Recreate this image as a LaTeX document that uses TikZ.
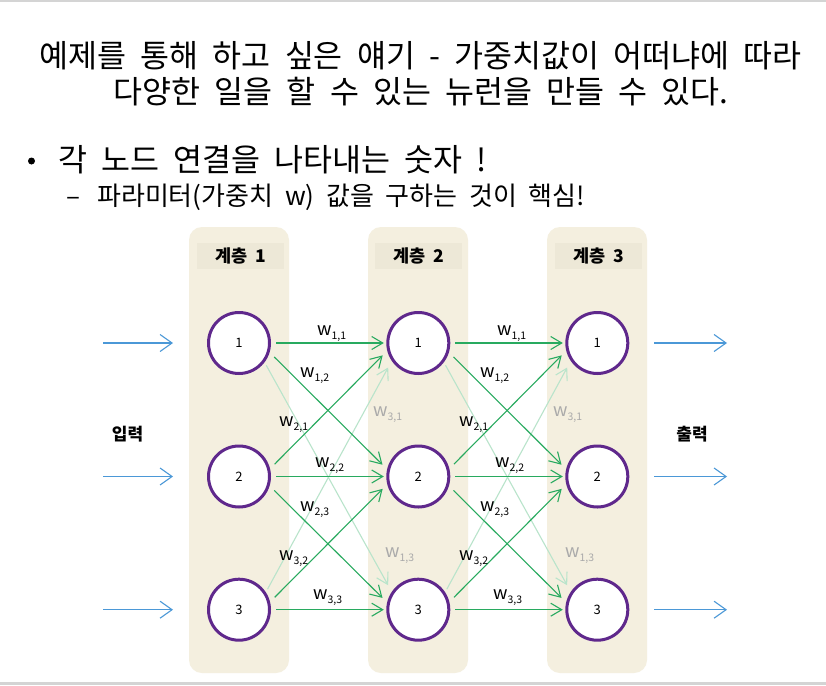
\documentclass[tikz,border=0pt]{standalone}
\usepackage{fontspec}
\setmainfont{Noto Sans CJK KR}[WordSpace=2]
\usetikzlibrary{arrows.meta,calc}
\definecolor{colbg}{RGB}{244,239,223}
\definecolor{hdbg}{RGB}{237,232,215}
\definecolor{npurple}{RGB}{95,40,140}
\definecolor{egreen}{RGB}{40,170,95}
\definecolor{efaint}{RGB}{185,228,203}
\definecolor{ablue}{RGB}{75,152,215}
\definecolor{lgray}{RGB}{170,170,170}
\definecolor{rule}{RGB}{212,212,212}
\newcommand{\wlab}[2]{w\raisebox{-4pt}{\fontsize{10.5}{10.5}\selectfont #1,#2}}
\begin{document}
\begin{tikzpicture}[x=1pt,y=-1pt,
  colbox/.style={fill=colbg, rounded corners=13pt, minimum width=100pt, minimum height=446pt, inner sep=0pt},
  hdbox/.style={fill=hdbg, minimum width=87pt, minimum height=26pt, inner sep=0pt, font=\fontsize{17.5}{20}\selectfont\bfseries},
  neuron/.style={circle, draw=npurple, line width=3pt, fill=white, minimum size=61pt, inner sep=0pt, font=\fontsize{13}{13}\selectfont},
  gedge/.style={draw=egreen, line width=1.1pt, -{Straight Barb[length=11pt,width=13pt]}},
  fedge/.style={draw=efaint, line width=1.1pt, -{Straight Barb[length=11pt,width=13pt]}},
  inarrow/.style={draw=ablue, line width=1.1pt, -{Straight Barb[length=12pt,width=17pt]}},
  wl/.style={anchor=base west, inner sep=0pt, font=\fontsize{18}{18}\selectfont},
  wlg/.style={wl, text=lgray},
  bigtxt/.style={inner sep=0pt, font=\fontsize{31.5}{36}\selectfont},
  subtxt/.style={inner sep=0pt, anchor=base west, font=\fontsize{26}{30}\selectfont},
  sidelab/.style={inner sep=0pt, font=\fontsize{17}{20}\selectfont\bfseries}
]
\useasboundingbox (0,0) rectangle (826,685);
\fill[white] (0,0) rectangle (826,685);
\fill[rule] (0,0) rectangle (826,2);
\fill[rule] (0,682) rectangle (826,685);

% title texts
\node[bigtxt, anchor=base] (t1) at (420.5,67) {예제를 통해 하고 싶은 얘기 - 가중치값이 어떠냐에 따라};
\node[bigtxt, anchor=base] (t2) at (421,103) {다양한 일을 할 수 있는 뉴런을 만들 수 있다.};
\node[circle, fill=black, inner sep=0pt, minimum size=7pt] (bul) at (31.5,161) {};
\node[bigtxt, anchor=base west] (b1) at (58,171) {각 노드 연결을 나타내는 숫자 !};
\node[subtxt] (d2) at (66,205) {–};
\node[subtxt] (b2) at (97,205) {파라미터(가중치 w) 값을 구하는 것이 핵심!};

% columns
\node[colbox] (colA) at (239,450) {};
\node[colbox] (colB) at (418,450) {};
\node[colbox] (colC) at (597,450) {};
\node[hdbox] (hA) at (240.5,256) {계층 1};
\node[hdbox] (hB) at (418.5,256) {계층 2};
\node[hdbox] (hC) at (598.5,256) {계층 3};

% neurons
\foreach \c/\x in {a/239,b/418.3,c/597.3}{
  \node[neuron] (\c1) at (\x,343) {1};
  \node[neuron] (\c2) at (\x,476.5) {2};
  \node[neuron] (\c3) at (\x,609.7) {3};
}

% edges
\foreach \s/\t in {a/b,b/c}{
  \draw[fedge, shorten <=3.5pt, shorten >=7.5pt] (\s1.-37) -- (\t3.146);
  \draw[fedge, shorten <=3.5pt, shorten >=7.5pt] (\s3.33) -- (\t1.-146);
  \draw[gedge, shorten <=5pt, shorten >=2.5pt] (\s1.0) -- (\t1.180);
  \draw[gedge, shorten <=5pt, shorten >=2.5pt] (\s2.0) -- (\t2.180);
  \draw[gedge, shorten <=5pt, shorten >=2.5pt] (\s3.0) -- (\t3.180);
  \draw[gedge, shorten <=6.5pt, shorten >=6.5pt] (\s1.-17) -- (\t2.167);
  \draw[gedge, shorten <=6.5pt, shorten >=6.5pt] (\s2.-17) -- (\t3.167);
  \draw[gedge, shorten <=6.5pt, shorten >=6.5pt] (\s2.14) -- (\t1.-166);
  \draw[gedge, shorten <=6.5pt, shorten >=6.5pt] (\s3.14) -- (\t2.-166);
}

% weight labels
\foreach \dx/\p in {0/p,180/q}{
  \node[wl] (\p w11) at (317+\dx,335) {\wlab{1}{1}};
  \node[wl] (\p w12) at (300+\dx,377) {\wlab{1}{2}};
  \node[wl] (\p w21) at (279+\dx,426) {\wlab{2}{1}};
  \node[wlg] (\p w31) at (373+\dx,416) {\wlab{3}{1}};
  \node[wl] (\p w22) at (315+\dx,467) {\wlab{2}{2}};
  \node[wl] (\p w23) at (300+\dx,511) {\wlab{2}{3}};
  \node[wl] (\p w32) at (279+\dx,560) {\wlab{3}{2}};
  \node[wlg] (\p w13) at (385+\dx,557) {\wlab{1}{3}};
  \node[wl] (\p w33) at (313+\dx,599) {\wlab{3}{3}};
}

% input / output arrows
\foreach \r/\y in {1/343,2/476.5,3/609.7}{
  \coordinate (in\r) at (103,\y);
  \coordinate (out\r) at (727,\y);
  \draw[inarrow, shorten >=34pt] (in\r) -- (a\r.west);
  \draw[inarrow, shorten <=25pt] (c\r.east) -- (out\r);
}
\node[sidelab] (inl) at (127.5,434) {입력};
\node[sidelab] (outl) at (692,434) {출력};
\end{tikzpicture}
\end{document}
